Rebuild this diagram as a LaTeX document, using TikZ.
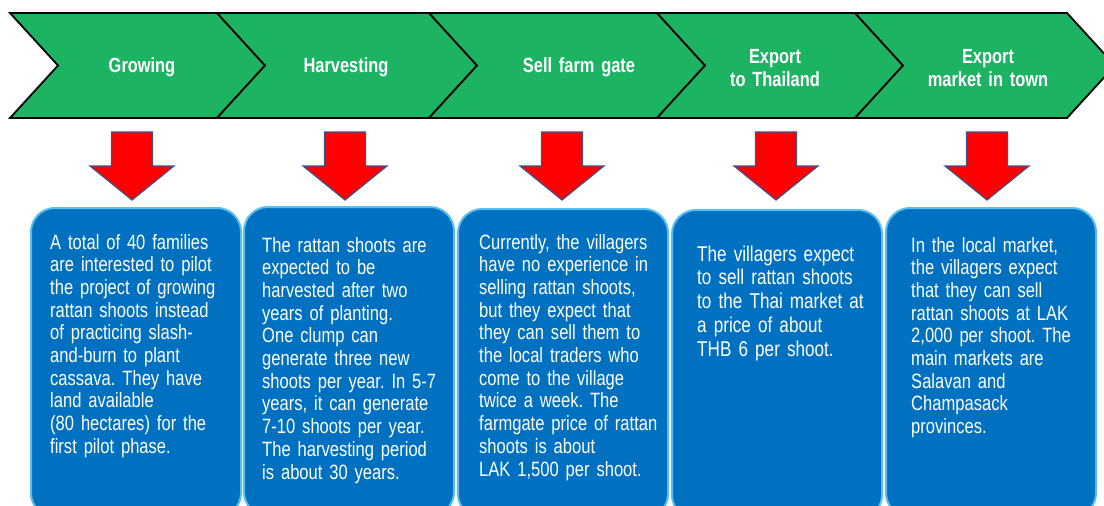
\documentclass[tikz,border=0pt]{standalone}
\usepackage{fontspec}
\setmainfont{Liberation Sans}[FakeStretch=0.80]
\usepackage{xcolor}
\usepackage{tikz}
\usetikzlibrary{positioning}
\frenchspacing

\definecolor{stagegreen}{RGB}{28,180,99}
\definecolor{boxblue}{RGB}{0,112,192}
\definecolor{boxrim}{RGB}{86,190,240}
\definecolor{arrowrim}{RGB}{62,82,140}

% one step of the chain: left top corner x, right top corner x
\newcommand{\stagechevron}[2]{%
  \filldraw[stage] (#1,-13) -- (#2,-13) -- (#2+48,-65.5) -- (#2,-118)
    -- (#1,-118) -- (#1+48,-65.5) -- cycle;}
% red block arrow pointing down, centred on x
\newcommand{\redarrow}[1]{%
  \filldraw[downarrow] (#1-20.5,-132) -- (#1+20.5,-132) -- (#1+20.5,-166)
    -- (#1+42,-166) -- (#1,-200) -- (#1-42,-166) -- (#1-20.5,-166) -- cycle;}

\begin{document}
\begin{tikzpicture}[x=1pt, y=1pt,
    stage/.style = {fill=stagegreen, draw=black, line width=1.8pt, line join=miter},
    stagelabel/.style = {text=white, font=\fontsize{20.5}{24}\selectfont\bfseries,
                         text width=150pt, align=center, inner sep=0pt},
    downarrow/.style = {fill=red, draw=arrowrim, line width=1.2pt},
    infobox/.style = {fill=boxblue, draw=boxrim, line width=2pt, rounded corners=24pt,
                      minimum width=210pt, minimum height=309pt, anchor=north west},
    boxtext/.style = {text=white, font=\fontsize{20.7}{22.7}\selectfont,
                      text width=200pt, align=left, inner sep=0pt, anchor=base west}]
  \useasboundingbox (0,0) rectangle (1104,-506);
  \clip (0,0) rectangle (1104,-506);

  % chevron chain
  \stagechevron{10}{217}
  \stagechevron{217}{429}
  \stagechevron{429}{657}
  \stagechevron{657}{855}
  \stagechevron{855}{1067}

  \node[stagelabel, anchor=base] (grow)   at (142,-72) {Growing};
  \node[stagelabel, anchor=base] (harv)   at (346,-72) {Harvesting};
  \node[stagelabel, anchor=base] (gate)   at (579,-72) {Sell farm gate};
  \node[stagelabel, anchor=base] (thai)   at (775,-63) {Export\\to Thailand};
  \node[stagelabel, anchor=base] (town)   at (988,-63) {Export\\market in town};

  % arrows down to the boxes
  \redarrow{132}
  \redarrow{345}
  \redarrow{562}
  \redarrow{776}
  \redarrow{987}

  % description boxes
  \node[infobox] (box1) at (30,-207)  {};
  \node[infobox] (box2) at (243,-206) {};
  \node[infobox] (box3) at (457,-208) {};
  \node[infobox] (box4) at (671,-209) {};
  \node[infobox] (box5) at (885,-207) {};

  \node[boxtext] (txt1) at ([shift={(20,-42)}]box1.north west)
    {A total of 40 families\\are interested to pilot\\the project of growing\\
     rattan shoots instead\\of practicing slash-\\and-burn to plant\\
     cassava. They have\\land available\\(80 hectares) for the\\first pilot phase.};
  \node[boxtext] (txt2) at ([shift={(19,-46)}]box2.north west)
    {The rattan shoots are\\expected to be\\harvested after two\\years of planting.\\
     One clump can\\generate three new\\shoots per year. In 5-7\\years, it can generate\\
     7-10 shoots per year.\\The harvesting period\\is about 30 years.};
  \node[boxtext] (txt3) at ([shift={(22,-41)}]box3.north west)
    {Currently, the villagers\\have no experience in\\selling rattan shoots,\\
     but they expect that\\they can sell them to\\the local traders who\\
     come to the village\\twice a week. The\\farmgate price of rattan\\
     shoots is about\\LAK 1,500 per shoot.};
  \node[boxtext, font=\fontsize{21.4}{23.75}\selectfont] (txt4)
    at ([shift={(26,-52)}]box4.north west)
    {The villagers expect\\to sell rattan shoots\\to the Thai market at\\
     a price of about\\THB 6 per shoot.};
  \node[boxtext] (txt5) at ([shift={(26,-45)}]box5.north west)
    {In the local market,\\the villagers expect\\that they can sell\\
     rattan shoots at LAK\\2,000 per shoot. The\\main markets are\\
     Salavan and\\Champasack\\provinces.};
\end{tikzpicture}
\end{document}
